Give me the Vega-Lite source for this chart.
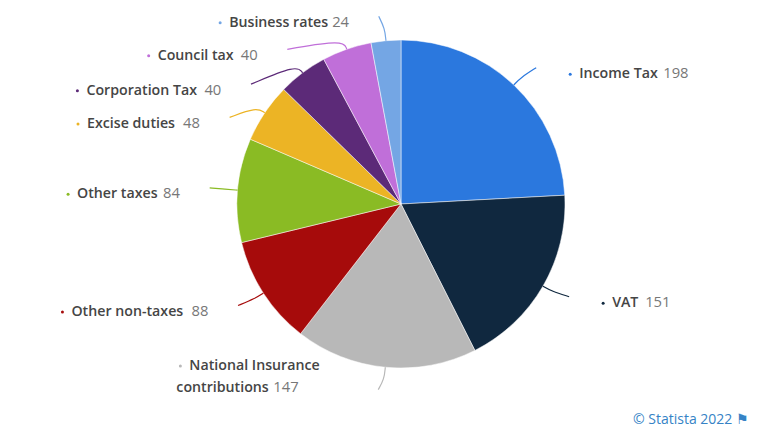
{
"$schema":"https://vega.github.io/schema/vega-lite/v6.json",
"width":734,"height":408,
"autosize":"none",
"padding":{"left":34,"top":0,"right":0,"bottom":24},
"background":"white",
"view":{"stroke":null},
"title":{"text":"© Statista 2022 ⚑","orient":"bottom","anchor":"end","dx":-19,"offset":5,"font":"Open Sans","fontSize":14,"fontWeight":400,"color":"#3583c6"},
"data":{"values":[
{"idx":1,"name":"Income Tax","value":198},
{"idx":2,"name":"VAT","value":151},
{"idx":3,"name":"National Insurance contributions","value":147},
{"idx":4,"name":"Other non-taxes","value":88},
{"idx":5,"name":"Other taxes","value":84},
{"idx":6,"name":"Excise duties","value":48},
{"idx":7,"name":"Corporation Tax","value":40},
{"idx":8,"name":"Council tax","value":40},
{"idx":9,"name":"Business rates","value":24}
]},
"transform":[
{"window":[{"op":"sum","field":"value","as":"cum"}],"sort":[{"field":"idx","order":"ascending"}]},
{"joinaggregate":[{"op":"sum","field":"value","as":"total"}]},
{"calculate":"(datum.cum-datum.value/2)/datum.total*2*PI","as":"mid"},
{"calculate":"{'Income Tax':{a:1.3,r:192,w:78,sh:0},'VAT':{a:-1.2,r:192,w:27,sh:0},'National Insurance contributions':{a:1.5,r:187,w:91,sh:-50},'Other non-taxes':{a:1,r:192,w:114,sh:0},'Other taxes':{a:0,r:192,w:80,sh:0},'Excise duties':{a:-7,r:192,w:90,sh:0},'Corporation Tax':{a:-14.5,r:192,w:112,sh:0},'Council tax':{a:-17,r:192,w:77,sh:0},'Business rates':{a:-1.5,r:189,w:97,sh:0}}[datum.name]","as":"lay"},
{"calculate":"datum.mid+datum.lay.a*PI/180","as":"end"},
{"calculate":"datum.lay.r*sin(datum.end)","as":"ex"},
{"calculate":"datum.lay.r*cos(datum.end)","as":"ey"},
{"calculate":"toString(datum.value)","as":"vt"},
{"calculate":"length(datum.vt)*8.3","as":"vw"},
{"calculate":"datum.ex>0?datum.ex+43:datum.ex-36-datum.vw-datum.lay.w+datum.lay.sh","as":"nx"},
{"calculate":"datum.idx===3?datum.ey+2:datum.ey-6.5","as":"ty"},
{"calculate":"datum.nx+datum.lay.w+6","as":"vx"},
{"calculate":"datum.idx===3?datum.nx+4:datum.nx-9","as":"bx"},
{"calculate":"datum.idx===3?datum.ty+21.5:datum.ty","as":"by"},
{"calculate":"datum.idx===3?'contributions':datum.name","as":"lastLine"}
],
"layer":[
{"mark":{"type":"arc","radius":164,"stroke":"#ffffff","strokeWidth":0.5},
 "encoding":{"theta":{"field":"value","type":"quantitative","stack":true},"order":{"field":"idx","type":"ordinal"},
 "color":{"field":"name","type":"nominal","legend":null,"scale":{"domain":["Income Tax","VAT","National Insurance contributions","Other non-taxes","Other taxes","Excise duties","Corporation Tax","Council tax","Business rates"],"range":["#2b78de","#10283f","#b8b8b8","#a60b0b","#8abb24","#ecb425","#5c2a78","#c06fd9","#74a6e4"]}}}},
{"transform":[
 {"calculate":"[164*sin(datum.mid),(datum.idx===3||datum.idx===9||datum.idx===5?176:174)*sin(datum.mid),datum.ex]","as":"lx"},
 {"calculate":"[164*cos(datum.mid),(datum.idx===3||datum.idx===9||datum.idx===5?176:174)*cos(datum.mid),datum.ey]","as":"ly"},
 {"calculate":"[0,1,2]","as":"step"},
 {"flatten":["lx","ly","step"]}],
 "mark":{"type":"line","interpolate":"basis","strokeWidth":1.2,"clip":false},
 "encoding":{"x":{"field":"lx","type":"quantitative","axis":null,"scale":{"domain":[-367,367],"nice":false,"zero":false}},
 "y":{"field":"ly","type":"quantitative","axis":null,"scale":{"domain":[-204,204],"nice":false,"zero":false}},
 "order":{"field":"step","type":"quantitative"},
 "color":{"field":"name","type":"nominal","legend":null}}},
{"mark":{"type":"point","filled":true,"shape":"circle","size":9,"opacity":1},
 "encoding":{"x":{"field":"bx","type":"quantitative","axis":null,"scale":{"domain":[-367,367],"nice":false,"zero":false}},
 "y":{"field":"by","type":"quantitative","axis":null,"scale":{"domain":[-204,204],"nice":false,"zero":false}},
 "color":{"field":"name","type":"nominal","legend":null}}},
{"mark":{"type":"text","align":"left","baseline":"middle","font":"Open Sans","fontSize":14.2,"fontWeight":600,"color":"#454545"},
 "encoding":{"x":{"field":"nx","type":"quantitative","axis":null,"scale":{"domain":[-367,367],"nice":false,"zero":false}},
 "y":{"field":"ty","type":"quantitative","axis":null,"scale":{"domain":[-204,204],"nice":false,"zero":false}},
 "text":{"field":"lastLine","type":"nominal"}}},
{"transform":[{"filter":"datum.idx===3"},{"calculate":"'National Insurance'","as":"firstLine"},{"calculate":"datum.nx+13","as":"fx"}],
 "mark":{"type":"text","align":"left","baseline":"middle","font":"Open Sans","fontSize":14.2,"fontWeight":600,"color":"#454545"},
 "encoding":{"x":{"field":"fx","type":"quantitative","axis":null,"scale":{"domain":[-367,367],"nice":false,"zero":false}},
 "y":{"field":"by","type":"quantitative","axis":null,"scale":{"domain":[-204,204],"nice":false,"zero":false}},
 "text":{"field":"firstLine","type":"nominal"}}},
{"mark":{"type":"text","align":"left","baseline":"middle","font":"Open Sans","fontSize":14.8,"fontWeight":400,"color":"#777777"},
 "encoding":{"x":{"field":"vx","type":"quantitative","axis":null,"scale":{"domain":[-367,367],"nice":false,"zero":false}},
 "y":{"field":"ty","type":"quantitative","axis":null,"scale":{"domain":[-204,204],"nice":false,"zero":false}},
 "text":{"field":"vt","type":"nominal"}}}
]
}
